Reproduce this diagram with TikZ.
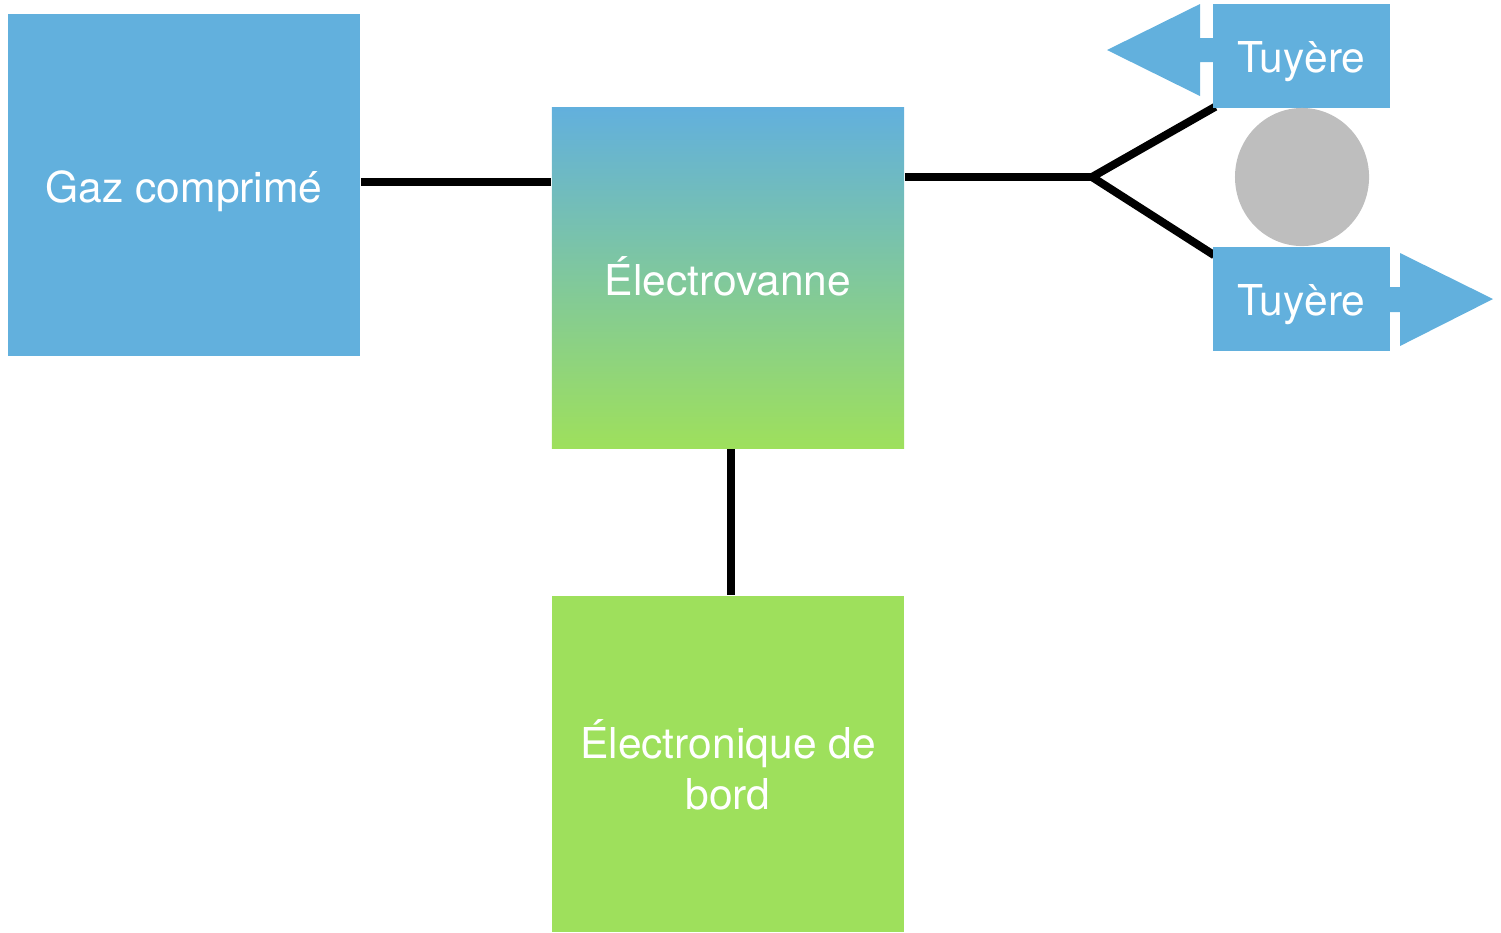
\documentclass[tikz,border=0pt]{standalone}
\usepackage{fontspec}
\setmainfont{TeX Gyre Heros}
\usetikzlibrary{shapes.geometric}
\pgfdeclarelayer{background}
\pgfsetlayers{background,main}
\definecolor{nblue}{RGB}{98,176,221}
\definecolor{ngreen}{RGB}{158,224,92}
\definecolor{ngray}{RGB}{190,190,190}
\newcommand{\lowtxt}[2]{\raisebox{-#1}[\height][\depth]{\begin{tabular}{@{}c@{}}#2\end{tabular}}}
\begin{document}
\begin{tikzpicture}[x=0.01cm,y=-0.01cm,
  box/.style={rectangle,inner sep=0pt,text=white,align=center,
    font=\fontsize{12.1}{14.3}\selectfont},
  conn/.style={line width=0.08cm,black}]
\useasboundingbox (0,0) rectangle (1501,932);
\node[box,fill=nblue,minimum width=3.52cm,minimum height=3.42cm] (gaz) at (184,185) {\lowtxt{2pt}{Gaz comprimé}};
\node[box,top color=nblue,bottom color=ngreen,minimum width=3.52cm,minimum height=3.40cm] (ev) at (728,278) {\lowtxt{1.7pt}{Électrovanne}};
\node[box,fill=ngreen,minimum width=3.52cm,minimum height=3.36cm] (eb) at (728,764) {\lowtxt{2.3pt}{Électronique de\\bord}};
\node[box,fill=nblue,minimum width=1.77cm,minimum height=1.04cm] (t1) at (1301.5,56) {\lowtxt{1.7pt}{Tuyère}};
\node[box,fill=nblue,minimum width=1.77cm,minimum height=1.04cm] (t2) at (1301.5,299) {\lowtxt{1.7pt}{Tuyère}};
\node[ellipse,fill=ngray,inner sep=0pt,minimum width=1.34cm,minimum height=1.38cm] (c) at (1302,177) {};
\coordinate (j) at (1092,177);
\fill[nblue] (1213,38) -- (1200,38) -- (1200,4) -- (1107,50) -- (1200,96) -- (1200,62) -- (1213,62) -- cycle;
\fill[nblue] (1390,287) -- (1400,287) -- (1400,253) -- (1493,299) -- (1400,346) -- (1400,312) -- (1390,312) -- cycle;
\begin{pgfonlayer}{background}
\draw[conn] ([yshift=0.03cm]gaz.east) -- ([yshift=0.03cm]gaz.east -| ev.west);
\draw[conn] (ev.east |- j) -- (j);
\draw[conn] (j) -- ([xshift=0.03cm,yshift=0.02cm]t1.south west);
\draw[conn] (j) -- ([xshift=0.02cm,yshift=-0.09cm]t2.north west);
\draw[conn] ([xshift=0.03cm]ev.south) -- ([xshift=0.03cm]eb.north);
\end{pgfonlayer}
\end{tikzpicture}
\end{document}
